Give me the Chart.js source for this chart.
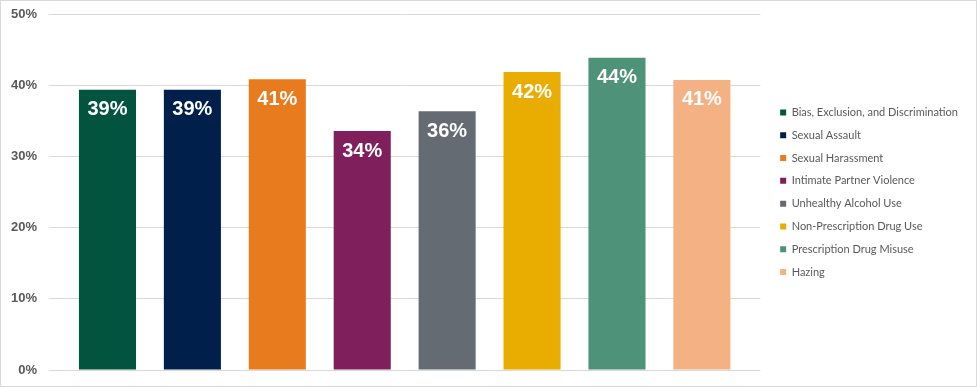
<!DOCTYPE html>
<html>
<head>
<meta charset="utf-8">
<script src="https://cdn.jsdelivr.net/npm/chart.js@4/dist/chart.umd.min.js"></script>
<style>
  html, body { margin: 0; padding: 0; background: #fff; }
  #wrap { position: relative; width: 975px; height: 385px; border: 1px solid #d9d9d9; }
</style>
</head>
<body>
<div id="wrap"><canvas id="grafico" width="975" height="385"></canvas></div>
<script>
// Datos
const categorias = [
  'Bias, Exclusion, and Discrimination',
  'Sexual Assault',
  'Sexual Harassment',
  'Intimate Partner Violence',
  'Unhealthy Alcohol Use',
  'Non-Prescription Drug Use',
  'Prescription Drug Misuse',
  'Hazing'
];
const valores = [39.4, 39.4, 40.9, 33.6, 36.4, 41.9, 43.9, 40.8];
const etiquetas = ['39%', '39%', '41%', '34%', '36%', '42%', '44%', '41%'];
const colores = ['#03543f', '#011f4b', '#e87b1e', '#7f1f5c', '#656b73', '#e9ac00', '#4f927a', '#f4b183'];
const ticksY = [0, 10, 20, 30, 40, 50];

const datasets = categorias.map((nombre, i) => ({
  label: nombre,
  data: [valores[i]],
  backgroundColor: colores[i],
  borderWidth: 0,
  barPercentage: 0.672,
  categoryPercentage: 0.955
}));

// etiquetas blancas dentro de cada barra
const etiquetasBarras = {
  id: 'etiquetasBarras',
  afterDatasetsDraw(chart) {
    const ctx = chart.ctx;
    ctx.save();
    ctx.fillStyle = '#ffffff';
    ctx.font = 'bold 20px "Liberation Sans", Arial, sans-serif';
    ctx.textAlign = 'center';
    ctx.textBaseline = 'middle';
    chart.data.datasets.forEach((ds, i) => {
      const bar = chart.getDatasetMeta(i).data[0];
      ctx.fillText(etiquetas[i], bar.x, bar.y + 20);
    });
    ctx.restore();
  }
};

new Chart(document.getElementById('grafico'), {
  type: 'bar',
  data: { labels: [''], datasets },
  options: {
    responsive: false,
    animation: false,
    layout: { padding: { left: 8, top: 13.5, bottom: 16, right: 8 } },
    plugins: {
      tooltip: { enabled: false },
      legend: {
        position: 'right',
        maxWidth: 240,
        labels: {
          boxWidth: 6,
          boxHeight: 6,
          padding: 11.8,
          color: '#595959',
          font: { family: 'Lato', size: 11 }
        }
      }
    },
    scales: {
      x: { display: false },
      y: {
        min: 0,
        max: 50,
        afterBuildTicks(axis) { axis.ticks = ticksY.map(v => ({ value: v })); },
        afterFit(axis) {
          axis.width = 40;
          axis.paddingTop = 0;
          axis.paddingBottom = 0;
        },
        grid: { color: '#d9d9d9', drawTicks: false, lineWidth: 1 },
        border: { display: false },
        ticks: {
          padding: 12,
          color: '#595959',
          font: { family: '"Liberation Sans", Arial', size: 13, weight: 'bold' },
          callback: v => v + '%'
        }
      },
      // eje vacío solo para separar la leyenda
      hueco: {
        position: 'right',
        display: true,
        grid: { display: false },
        border: { display: false },
        ticks: { display: false },
        afterFit(axis) { axis.width = 8; }
      }
    }
  },
  plugins: [etiquetasBarras]
});
</script>
</body>
</html>
